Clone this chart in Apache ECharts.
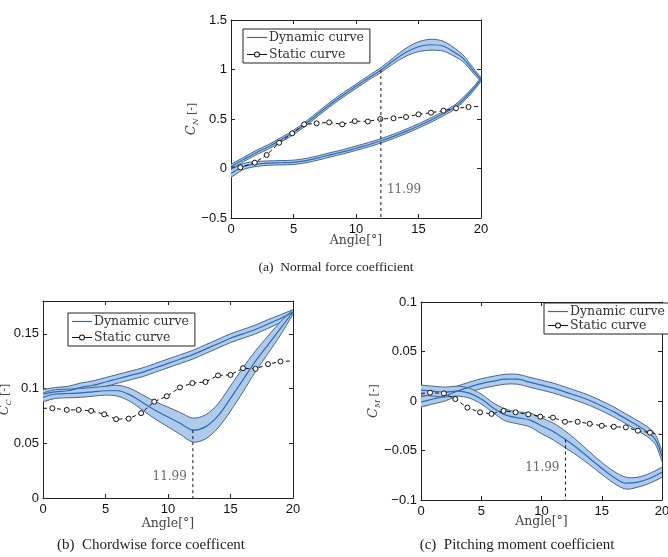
<!DOCTYPE html>
<html>
<head>
<meta charset="UTF-8">
<title>Dynamic vs static coefficients</title>
<script src="https://cdn.jsdelivr.net/npm/echarts@6/dist/echarts.min.js"></script>
<style>
  body { margin: 0; background: #fff; }
  #chart { width: 668px; height: 557px; }
</style>
</head>
<body>
<div id="chart"></div>
<script>
// static measurement angles, shared by the three panels
const staticAngle = [0, 0.75, 1.9, 2.85, 3.85, 4.9, 5.85, 6.85, 7.85, 8.9, 9.9, 10.95, 11.95, 13, 14, 15, 16, 17, 18, 19, 20];
const markAngle = 11.99;

// (a) normal force coefficient
const cnUpAngle = [0, 1, 2, 3, 4, 5, 6, 7, 8, 9, 10, 11, 12, 13, 14, 15, 16, 17, 18, 18.5, 19, 19.5, 20];
const cnUpMean  = [0.02, 0.09, 0.16, 0.22, 0.29, 0.365, 0.455, 0.555, 0.655, 0.745, 0.83, 0.915, 0.995, 1.09, 1.175, 1.23, 1.25, 1.235, 1.165, 1.12, 1.05, 0.97, 0.9];
const cnUpStd   = [0.022, 0.022, 0.022, 0.022, 0.022, 0.022, 0.022, 0.022, 0.022, 0.022, 0.022, 0.022, 0.025, 0.03, 0.04, 0.05, 0.055, 0.05, 0.04, 0.035, 0.03, 0.025, 0.02];
const cnDnAngle = [0, 1, 2, 3, 4, 5, 6, 7, 8, 9, 10, 11, 12, 13, 14, 15, 16, 17, 18, 19, 19.5, 20];
const cnDnMean  = [-0.05, 0.02, 0.045, 0.055, 0.058, 0.062, 0.08, 0.108, 0.14, 0.17, 0.205, 0.24, 0.28, 0.325, 0.375, 0.43, 0.49, 0.555, 0.63, 0.75, 0.82, 0.9];
const cnDnStd   = [0.04, 0.03, 0.025, 0.022, 0.022, 0.022, 0.022, 0.022, 0.022, 0.022, 0.022, 0.022, 0.022, 0.022, 0.022, 0.022, 0.022, 0.022, 0.022, 0.022, 0.02, 0.02];
const cnStatic  = [0.015, 0.012, 0.059, 0.136, 0.26, 0.355, 0.446, 0.456, 0.466, 0.446, 0.478, 0.475, 0.5, 0.507, 0.52, 0.547, 0.564, 0.584, 0.608, 0.621, 0.63];
const cnLabelY  = -0.217;

// (b) chordwise force coefficient
const ccUpAngle = [0, 1, 2, 3, 4, 5, 6, 7, 8, 9, 10, 11, 12, 13, 14, 15, 16, 17, 18, 19, 20];
const ccUpMean  = [0.095, 0.097, 0.098, 0.101, 0.103, 0.106, 0.109, 0.112, 0.115, 0.119, 0.123, 0.127, 0.131, 0.136, 0.141, 0.146, 0.15, 0.154, 0.159, 0.164, 0.17];
const ccUpStd   = [0.004, 0.004, 0.004, 0.004, 0.004, 0.004, 0.004, 0.004, 0.004, 0.004, 0.004, 0.004, 0.004, 0.004, 0.004, 0.004, 0.004, 0.004, 0.004, 0.0035, 0.002];
const ccDnAngle = [0, 1, 2, 3, 4, 5, 6, 7, 8, 9, 10, 11, 12, 13, 14, 15, 16, 17, 18, 19, 20];
const ccDnMean  = [0.092, 0.095, 0.0955, 0.096, 0.097, 0.098, 0.098, 0.094, 0.087, 0.08, 0.074, 0.068, 0.062, 0.065, 0.075, 0.091, 0.108, 0.125, 0.14, 0.155, 0.17];
const ccDnStd   = [0.004, 0.004, 0.004, 0.004, 0.004, 0.004, 0.005, 0.006, 0.007, 0.008, 0.009, 0.01, 0.011, 0.011, 0.011, 0.0115, 0.011, 0.0095, 0.008, 0.006, 0.002];
const ccStatic  = [0.082, 0.082, 0.0805, 0.0805, 0.0796, 0.0765, 0.072, 0.0725, 0.0775, 0.088, 0.093, 0.101, 0.105, 0.106, 0.112, 0.1125, 0.1186, 0.118, 0.1223, 0.1247, 0.1253];
const ccLabelY  = 0.019;

// (c) pitching moment coefficient
const cmUpAngle = [0, 1, 2, 3, 4, 5, 6, 7, 8, 9, 10, 11, 12, 13, 14, 15, 16, 17, 18, 19, 19.5, 20];
const cmUpMean  = [-0.001, 0.002, 0.005, 0.01, 0.014, 0.0175, 0.02, 0.022, 0.022, 0.019, 0.016, 0.013, 0.009, 0.005, 0.0005, -0.005, -0.011, -0.018, -0.025, -0.033, -0.04, -0.056];
const cmUpStd   = [0.005, 0.005, 0.005, 0.005, 0.005, 0.005, 0.005, 0.005, 0.005, 0.005, 0.005, 0.005, 0.005, 0.005, 0.005, 0.005, 0.005, 0.005, 0.005, 0.005, 0.005, 0.005];
const cmDnAngle = [0, 1, 2, 3, 4, 5, 6, 7, 8, 9, 10, 11, 12, 13, 14, 15, 16, 17, 18, 19, 20];
const cmDnMean  = [0.011, 0.01, 0.009, 0.01, 0.008, 0.002, -0.007, -0.014, -0.017, -0.019, -0.025, -0.031, -0.039, -0.048, -0.058, -0.068, -0.077, -0.083, -0.082, -0.078, -0.072];
const cmDnStd   = [0.005, 0.005, 0.005, 0.005, 0.005, 0.005, 0.005, 0.006, 0.006, 0.007, 0.008, 0.0085, 0.0085, 0.0075, 0.0065, 0.006, 0.006, 0.006, 0.005, 0.005, 0.005];
const cmStatic  = [0.0077, 0.0084, 0.0077, 0.002, -0.0067, -0.0114, -0.013, -0.01, -0.0114, -0.0135, -0.0158, -0.0168, -0.021, -0.021, -0.023, -0.025, -0.026, -0.0266, -0.03, -0.032, -0.034];
const cmLabelY  = -0.068;

const BAND_FILL = '#afcbec';
const BAND_EDGE = '#3b587c';
const MEAN = '#2c6bb8';
const SERIF = 'DejaVu Serif';
const SANS = 'Liberation Sans';

// legend icons: a plain line, and a line with an open circle
const ICON_LINE = 'path://M0,0L0,0M0,4.4L20,4.4L20,5.6L0,5.6ZM20,10L20,10';
const ICON_MARK = 'path://M0,0L0,0M0,4.5L7,4.5L7,5.5L0,5.5ZM13,4.5L20,4.5L20,5.5L13,5.5Z' +
  'M7,5a3,3 0 1,0 6,0a3,3 0 1,0 -6,0ZM8,5a2,2 0 1,1 4,0a2,2 0 1,1 -4,0ZM20,10L20,10';

function band(xi, ang, mean, sd) {
  return {
    type: 'custom', name: 'band', xAxisIndex: xi, yAxisIndex: xi, z: 1, silent: true, clip: true,
    data: [[ang[0], mean[0]]],
    renderItem: function (params, api) {
      const up = ang.map((a, i) => api.coord([a, mean[i] + sd[i]]));
      const lo = ang.map((a, i) => api.coord([a, mean[i] - sd[i]]));
      const poly = up.concat(lo.slice().reverse());
      return { type: 'group', children: [
        { type: 'polygon', shape: { points: poly, smooth: 0.3 }, style: { fill: BAND_FILL, stroke: null } },
        { type: 'polyline', shape: { points: up, smooth: 0.3 }, style: { stroke: BAND_EDGE, lineWidth: 0.9, fill: null } },
        { type: 'polyline', shape: { points: lo, smooth: 0.3 }, style: { stroke: BAND_EDGE, lineWidth: 0.9, fill: null } }
      ] };
    }
  };
}

function meanLine(xi, ang, mean) {
  return {
    type: 'line', name: 'Dynamic curve', xAxisIndex: xi, yAxisIndex: xi, z: 2,
    data: ang.map((a, i) => [a, mean[i]]),
    symbol: 'none', smooth: 0.3, silent: true,
    lineStyle: { color: MEAN, width: 1.2 }, itemStyle: { color: MEAN }
  };
}

function staticLine(xi, vals) {
  const last = staticAngle.length - 1;
  return {
    type: 'line', name: 'Static curve', xAxisIndex: xi, yAxisIndex: xi, z: 3, silent: true,
    data: staticAngle.map((a, i) => ({ value: [a, vals[i]], symbol: (i === 0 || i === last) ? 'none' : 'circle' })),
    symbolSize: 5,
    lineStyle: { color: '#111', width: 1, type: [4, 3] },
    itemStyle: { color: '#fff', borderColor: '#111', borderWidth: 1 }
  };
}

function markLine(xi, top, bottom, labelY, side) {
  return [{
    type: 'line', xAxisIndex: xi, yAxisIndex: xi, z: 4, silent: true, symbol: 'none',
    data: [[markAngle, top], [markAngle, bottom]],
    lineStyle: { color: '#111', width: 1, type: [3, 3] }
  }, {
    type: 'scatter', xAxisIndex: xi, yAxisIndex: xi, z: 4, silent: true, symbolSize: 0,
    data: [[markAngle, labelY]],
    label: { show: true, formatter: '11.99', position: side, distance: 6, fontFamily: SERIF, fontSize: 12, color: '#444' }
  }];
}

const axisCol = '#222';
function xAxes(g, gap) {
  const base = {
    type: 'value', gridIndex: g, min: 0, max: 20, interval: 5,
    axisLine: { onZero: false, lineStyle: { color: axisCol } },
    axisTick: { inside: true, length: 4, lineStyle: { color: axisCol } },
    splitLine: { show: false }
  };
  return [
    Object.assign({}, base, {
      name: 'Angle[°]', nameLocation: 'middle', nameGap: gap, nameMoveOverlap: false,
      nameTextStyle: { fontFamily: SERIF, fontSize: 12.5, color: '#444' },
      axisLabel: { fontFamily: SANS, fontSize: 13, color: '#111', margin: 5 }
    }),
    Object.assign({}, base, { position: 'top', axisLabel: { show: false } })
  ];
}

function yAxes(g, min, max, step, sub, gap) {
  const base = {
    type: 'value', gridIndex: g, min: min, max: max, interval: step,
    axisLine: { onZero: false, lineStyle: { color: axisCol } },
    axisTick: { inside: true, length: 4, lineStyle: { color: axisCol } },
    splitLine: { show: false }
  };
  return [
    Object.assign({}, base, {
      name: '{c|C}{s|' + sub + '} {t|[-]}', nameLocation: 'middle', nameGap: gap, nameRotate: 90,
      nameMoveOverlap: false,
      nameTextStyle: {
        color: '#444',
        rich: {
          c: { fontFamily: SERIF, fontStyle: 'italic', fontSize: 13, color: '#444', lineHeight: 16 },
          s: { fontFamily: SERIF, fontStyle: 'italic', fontSize: 8, color: '#444', verticalAlign: 'bottom', lineHeight: 16, padding: [6, 0, 0, 0] },
          t: { fontFamily: SERIF, fontSize: 11, color: '#444', lineHeight: 16 }
        }
      },
      axisLabel: {
        fontFamily: SANS, fontSize: 13, color: '#111', margin: 4, showMaxLabel: max % step === 0 ? true : false,
        formatter: v => String(v).replace('-', '\u2212')
      }
    }),
    Object.assign({}, base, { position: 'right', axisLabel: { show: false } })
  ];
}

function legendAt(left, top, gap) {
  return {
    data: [
      { name: 'Dynamic curve', icon: ICON_LINE, itemStyle: { color: MEAN } },
      { name: 'Static curve', icon: ICON_MARK, itemStyle: { color: '#111', borderWidth: 0 } }
    ],
    orient: 'vertical', left: left, top: top,
    itemGap: gap, itemWidth: 20, itemHeight: 10, padding: [2, 6, 2, 4],
    borderColor: '#222', borderWidth: 1, backgroundColor: '#fff', selectedMode: false,
    textStyle: { fontFamily: SERIF, fontSize: 12.5, color: '#333', padding: [0, 0, 0, -3] }
  };
}

const grids = [
  { left: 231, top: 20, width: 250, height: 198 },
  { left: 43, top: 301, width: 250, height: 197 },
  { left: 421, top: 302, width: 241, height: 198 }
].map(g => Object.assign(g, { containLabel: false, outerBoundsMode: 'none' }));

const chart = echarts.init(document.getElementById('chart'));
chart.setOption({
  animation: false,
  backgroundColor: '#fff',
  grid: grids,
  xAxis: [].concat(xAxes(0, 16), xAxes(1, 19), xAxes(2, 15)),
  yAxis: [].concat(
    yAxes(0, -0.5, 1.5, 0.5, 'N', 31),
    yAxes(1, 0, 0.18, 0.05, 'C', 30),
    yAxes(2, -0.1, 0.1, 0.05, 'M', 39)
  ),
  legend: [legendAt(243, 29, 4), legendAt(68, 313, 3), legendAt(544, 303, 1)],
  graphic: [
    { type: 'text', x: 336, y: 260, style: { text: '(a)  Normal force coefficient', textAlign: 'center', fontFamily: 'Liberation Serif', fontSize: 13.5, fill: '#222' } },
    { type: 'text', x: 151, y: 538, style: { text: '(b)  Chordwise force coefficent', textAlign: 'center', fontFamily: 'Liberation Serif', fontSize: 15, fill: '#222' } },
    { type: 'text', x: 517, y: 538, style: { text: '(c)  Pitching moment coefficient', textAlign: 'center', fontFamily: 'Liberation Serif', fontSize: 15, fill: '#222' } }
  ],
  series: [].concat(
    band(0, cnUpAngle, cnUpMean, cnUpStd), band(0, cnDnAngle, cnDnMean, cnDnStd),
    meanLine(0, cnUpAngle, cnUpMean), meanLine(0, cnDnAngle, cnDnMean),
    staticLine(0, cnStatic),
    markLine(0, cnUpMean[cnUpAngle.indexOf(12)], -0.5, cnLabelY, 'right'),

    band(2, ccUpAngle, ccUpMean, ccUpStd), band(2, ccDnAngle, ccDnMean, ccDnStd),
    meanLine(2, ccUpAngle, ccUpMean), meanLine(2, ccDnAngle, ccDnMean),
    staticLine(2, ccStatic),
    markLine(2, ccDnMean[ccDnAngle.indexOf(12)], 0, ccLabelY, 'left'),

    band(4, cmUpAngle, cmUpMean, cmUpStd), band(4, cmDnAngle, cmDnMean, cmDnStd),
    meanLine(4, cmUpAngle, cmUpMean), meanLine(4, cmDnAngle, cmDnMean),
    staticLine(4, cmStatic),
    markLine(4, cmDnMean[cmDnAngle.indexOf(12)], -0.1, cmLabelY, 'left')
  )
});
</script>
</body>
</html>
